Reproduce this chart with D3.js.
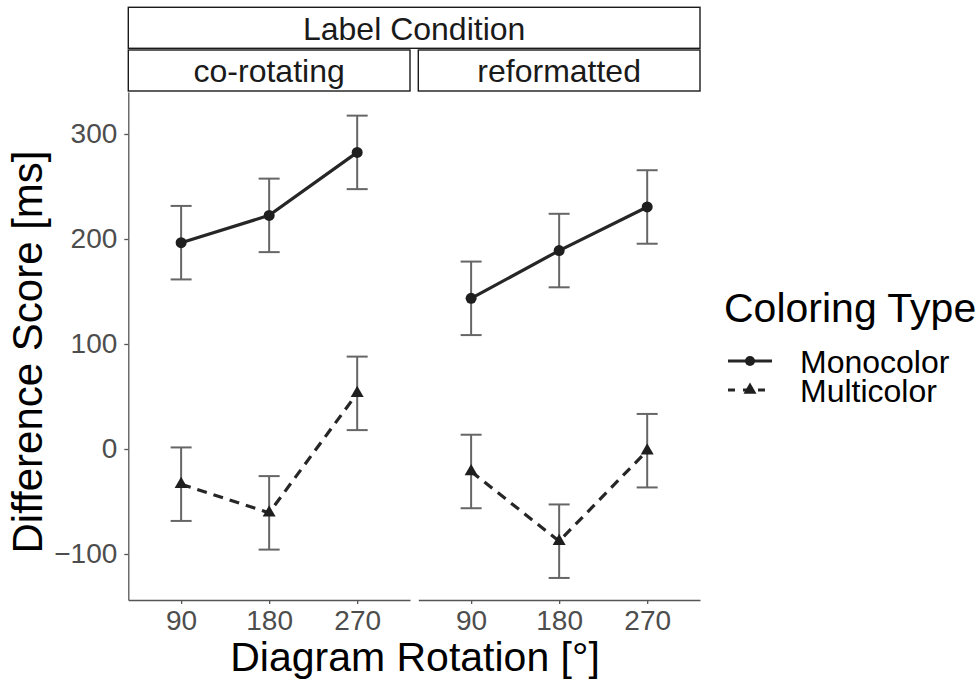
<!DOCTYPE html>
<html>
<head>
<meta charset="utf-8">
<script src="https://cdn.jsdelivr.net/npm/d3@7"></script>
<style>
  html, body { margin: 0; padding: 0; background: #fff; }
  svg { display: block; font-family: "Liberation Sans", Arial, sans-serif; }
</style>
</head>
<body>
<svg id="chart" width="980" height="681"></svg>
<script>
// Facets (label condition) and x categories (diagram rotation)
const panels = ["co-rotating", "reformatted"];
const rotations = ["90", "180", "270"];
const yTicks = [-100, 0, 100, 200, 300];

// Mean difference scores [ms] per panel, rotation order 90/180/270
const monoMean = {
  "co-rotating": [196.5, 222.5, 282.5],
  "reformatted": [143.5, 189.0, 230.5]
};
const multiMean = {
  "co-rotating": [-33.5, -60.8, 53.0],
  "reformatted": [-21.4, -87.8, -1.6]
};
// Error bar half-widths [ms]
const monoErr = {
  "co-rotating": [35, 35, 35],
  "reformatted": [35, 35, 35]
};
const multiErr = {
  "co-rotating": [35, 35, 35],
  "reformatted": [35, 35, 35]
};

const svg = d3.select("#chart");

const panelX = { "co-rotating": [128.3, 410], "reformatted": [418.3, 700] };
const plotTop = 92, plotBottom = 600;

const y = d3.scaleLinear().domain([-143.8, 340]).range([plotBottom, plotTop]);

const series = [
  { key: "Monocolor", mean: monoMean, err: monoErr, dash: null, shape: "circle" },
  { key: "Multicolor", mean: multiMean, err: multiErr, dash: "10,7", shape: "triangle" }
];

const triPath = (s) => {
  // equilateral triangle centred on its centroid, side s
  const h = s * Math.sqrt(3) / 2;
  return `M0,${-2 * h / 3}L${s / 2},${h / 3}L${-s / 2},${h / 3}Z`;
};

// Strip: overall facet title
svg.append("rect").attr("x", 128.3).attr("y", 7.3).attr("width", 700 - 128.3).attr("height", 41)
  .attr("fill", "#fff").attr("stroke", "#1a1a1a").attr("stroke-width", 1.4);
svg.append("text").attr("x", (128.3 + 700) / 2).attr("y", 40)
  .attr("text-anchor", "middle").attr("font-size", 32).attr("fill", "#1a1a1a")
  .text("Label Condition");

panels.forEach((p, pi) => {
  const [x0, x1] = panelX[p];
  const x = d3.scalePoint().domain(rotations).range([x0, x1]).padding(0.6);
  const g = svg.append("g");

  // panel strip
  g.append("rect").attr("x", x0).attr("y", 50).attr("width", x1 - x0).attr("height", 41)
    .attr("fill", "#fff").attr("stroke", "#1a1a1a").attr("stroke-width", 1.4);
  g.append("text").attr("x", (x0 + x1) / 2).attr("y", 81.5)
    .attr("text-anchor", "middle").attr("font-size", 32).attr("fill", "#1a1a1a")
    .text(p);

  // x axis
  const xa = g.append("g").attr("transform", `translate(0,${plotBottom})`)
    .call(d3.axisBottom(x).tickSize(4).tickPadding(6).tickSizeOuter(0));
  xa.select(".domain").attr("stroke", "#555").attr("stroke-width", 1.3);
  xa.selectAll(".tick line").attr("stroke", "#555").attr("stroke-width", 1.3);
  xa.selectAll(".tick text").attr("font-size", 28).attr("fill", "#4d4d4d")
    .attr("font-family", "Liberation Sans, Arial, sans-serif").attr("dy", "0.71em");

  // y axis on the first panel only
  if (pi === 0) {
    const ya = g.append("g").attr("transform", `translate(${x0},0)`)
      .call(d3.axisLeft(y).tickValues(yTicks).tickSize(4).tickPadding(7).tickSizeOuter(0));
    ya.select(".domain").attr("stroke", "#555").attr("stroke-width", 1.3);
    ya.selectAll(".tick line").attr("stroke", "#555").attr("stroke-width", 1.3);
    ya.selectAll(".tick text").attr("font-size", 28).attr("fill", "#4d4d4d")
      .attr("font-family", "Liberation Sans, Arial, sans-serif");
  }

  series.forEach(s => {
    const pts = rotations.map((r, i) => ({ r, m: s.mean[p][i], e: s.err[p][i] }));

    // error bars
    const eb = g.append("g").attr("stroke", "#666").attr("stroke-width", 2).attr("fill", "none");
    pts.forEach(d => {
      const cx = x(d.r), w = 10.5;
      eb.append("line").attr("x1", cx).attr("x2", cx).attr("y1", y(d.m - d.e)).attr("y2", y(d.m + d.e));
      eb.append("line").attr("x1", cx - w).attr("x2", cx + w).attr("y1", y(d.m + d.e)).attr("y2", y(d.m + d.e));
      eb.append("line").attr("x1", cx - w).attr("x2", cx + w).attr("y1", y(d.m - d.e)).attr("y2", y(d.m - d.e));
    });

    // connecting line
    g.append("path").datum(pts)
      .attr("d", d3.line().x(d => x(d.r)).y(d => y(d.m)))
      .attr("fill", "none").attr("stroke", "#262626").attr("stroke-width", 3.2)
      .attr("stroke-dasharray", s.dash);

    // points
    pts.forEach(d => {
      if (s.shape === "circle") {
        g.append("circle").attr("cx", x(d.r)).attr("cy", y(d.m)).attr("r", 5.5).attr("fill", "#1f1f1f");
      } else {
        g.append("path").attr("d", triPath(13))
          .attr("transform", `translate(${x(d.r)},${y(d.m)})`).attr("fill", "#1f1f1f");
      }
    });
  });
});

// axis titles
svg.append("text").attr("x", 415).attr("y", 671).attr("text-anchor", "middle")
  .attr("font-size", 41).attr("fill", "#000").text("Diagram Rotation [°]");
svg.append("text").attr("transform", `translate(42,352) rotate(-90)`)
  .attr("text-anchor", "middle").attr("font-size", 42).attr("fill", "#000")
  .text("Difference Score [ms]");

// legend
const lg = svg.append("g");
lg.append("text").attr("x", 724).attr("y", 322).attr("font-size", 41).attr("fill", "#000")
  .text("Coloring Type");
series.forEach((s, i) => {
  const cy = 361 + i * 29;
  lg.append("line").attr("x1", 728).attr("x2", 772).attr("y1", cy).attr("y2", cy)
    .attr("stroke", "#262626").attr("stroke-width", 3.2).attr("stroke-dasharray", s.dash ? "7,8" : null);
  if (s.shape === "circle") {
    lg.append("circle").attr("cx", 750).attr("cy", cy).attr("r", 5).attr("fill", "#1f1f1f");
  } else {
    lg.append("path").attr("d", triPath(13)).attr("transform", `translate(750,${cy})`).attr("fill", "#1f1f1f");
  }
  lg.append("text").attr("x", 800).attr("y", cy + 12).attr("font-size", 32).attr("fill", "#000")
    .text(s.key);
});
</script>
</body>
</html>
